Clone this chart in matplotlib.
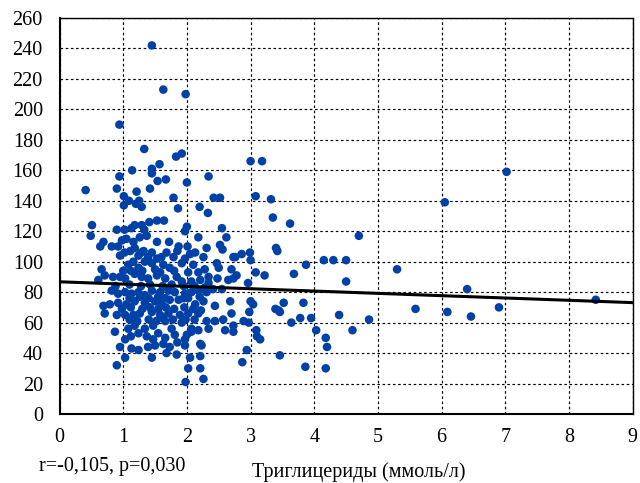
import matplotlib
matplotlib.use("Agg")
import matplotlib.pyplot as plt
import numpy as np

# Triglycerides (mmol/L) and the y-measure
tg = [1.45, 1.63, 1.98, 0.94, 1.33, 1.92, 1.83, 3.00, 3.18, 1.57, 1.45, 1.14, 0.94, 2.34, 1.45, 1.67, 1.54, 2.00,
      0.41, 0.90, 1.42, 1.21, 1.01, 3.08, 1.79, 2.42, 2.52, 3.32, 1.09, 1.25, 1.20, 1.01, 1.29, 2.20, 1.86, 2.33,
      3.35, 3.62, 1.41, 1.53, 1.64, 0.51,
      # right side
      7.02, 6.05, 4.70, 4.15, 4.30, 4.50, 5.30, 4.50, 6.40, 8.42, 5.59, 6.09, 6.90, 4.39, 4.86, 6.46, 4.60, 4.18,
      4.20, 4.18, 3.40, 3.42, 3.87, 3.68, 3.52, 3.83, 3.46, 3.64, 3.78, 3.95, 4.03, 3.46, 3.86,
      # 2.75 - 3.5
      2.76, 2.86, 2.99, 3.00, 3.08, 3.22, 2.96, 2.78, 3.00, 3.04, 2.98, 3.39, 3.44, 2.97, 2.89, 3.09, 3.10, 3.15,
      2.94, 2.87,
      # core rows
      0.49, 0.90, 1.02, 1.13, 1.18, 1.29, 1.33, 2.00, 1.97, 2.55,
      0.64, 0.69, 0.82, 0.92, 0.98, 1.05, 1.16, 1.26, 1.37, 1.53, 1.72, 1.87, 2.01, 2.18, 2.13, 2.62, 2.52, 2.56, 2.73,
      0.95, 1.11, 1.18, 1.24, 1.32, 1.39, 1.53, 1.60, 1.79, 1.97, 2.26, 2.31,
      0.66, 0.71, 1.08, 1.16, 1.24, 1.34, 1.45, 1.50, 1.63, 1.73, 1.92, 2.10, 2.28, 2.47, 2.50, 2.34, 2.48, 2.70,
      0.61, 0.84, 0.95, 1.03, 1.18, 1.29, 1.39, 1.53, 1.66, 1.84, 1.92, 2.07, 2.21, 2.34, 2.65, 2.73,
      0.82, 0.92, 1.03, 1.13, 1.24, 1.34, 1.45, 1.58, 1.71, 1.81, 1.97, 2.07, 2.18, 2.31, 2.41, 2.55,
      0.69, 0.79, 0.92, 1.05, 1.18, 1.34, 1.50, 1.60, 1.73, 1.87, 2.02, 2.13, 2.26, 2.44, 2.68, 2.70,
      0.71, 0.90, 1.03, 1.16, 1.26, 1.45, 1.58, 1.71, 1.89, 2.02, 2.18, 2.31, 2.44, 2.57, 2.73,
      0.87, 1.08, 1.18, 1.34, 1.47, 1.66, 1.76, 1.92, 2.07, 2.18, 2.34, 2.60, 2.73,
      1.03, 1.24, 1.37, 1.47, 1.66, 1.81, 1.97, 2.07, 2.21,
      0.95, 1.13, 1.24, 1.39, 1.63, 1.73, 1.97, 2.23,
      1.03, 1.45, 1.68, 1.84, 2.05, 2.21, 0.90,
      1.98, 2.02, 2.21, 2.26,
      # overlapping dots of the dense core
      0.88, 1.10, 1.28, 1.42, 1.62, 1.76, 1.95, 2.12, 2.28,
      0.98, 1.12, 1.30, 1.42, 1.55, 1.67, 1.80, 1.96, 2.10, 2.22,
      1.10, 1.22, 1.40, 1.52, 1.62, 1.78, 1.98, 2.12,
      1.10, 1.26, 1.40, 1.55, 1.66, 1.95, 2.20,
      1.00, 1.12, 1.30, 1.58, 1.80, 2.02, 2.18,
      1.02, 1.28, 1.45, 1.68, 1.85, 2.05,
      1.12, 1.55, 1.85, 2.00, 1.50]

yval = [242, 213, 210, 190, 174, 171, 169, 166, 166, 164, 161, 160, 156, 156, 158, 154, 153, 152,
        147, 148, 148, 146, 143, 143, 142, 142, 142, 141, 140, 140, 138, 137, 136, 136, 135, 132,
        129, 125, 126, 127, 127, 124,
        159, 139, 117, 101, 101, 101, 95, 87, 82, 75, 69, 67, 70, 65, 62, 64, 55, 50,
        44, 30, 109, 107, 98, 92, 73, 73, 67, 60, 63, 63, 55, 38.5, 31,
        103, 105, 106, 101, 93, 91, 86, 91, 74, 72, 67, 69, 68, 60, 61, 55, 51, 49,
        42, 34,
        117, 121, 121, 122, 124, 124, 121, 123, 120, 122,
        110, 113, 110, 110, 114, 115, 113, 116, 117, 113, 113, 110, 110, 116, 106, 116, 111, 108, 103,
        104, 107, 109, 104, 107, 103, 102, 103, 103, 102, 103, 109,
        95, 91, 98, 100, 96, 100, 99, 95, 98, 96, 99, 98, 95, 99, 96, 90, 89, 95,
        88, 90, 90, 89, 92, 90, 89, 91, 89, 90, 87, 87, 88, 86, 88, 89,
        81, 79, 80, 79, 80, 78, 81, 80, 81, 80, 79, 80, 81, 80, 82, 82,
        71, 72, 73, 72, 74, 73, 74, 73, 75, 75, 76, 72, 74, 71, 74, 66,
        66, 65, 65, 65, 66, 67, 65, 66, 65, 66, 66, 61, 61, 62, 58,
        54, 56, 58, 56, 58, 61, 56, 60, 56, 55, 56, 55, 54,
        49, 53, 51, 49, 50, 52, 49, 54, 46,
        44, 43, 42, 44, 46, 44, 45, 45,
        37, 37, 40, 39, 37, 38, 32,
        21, 30, 30, 23,
        84, 85, 84, 85, 84, 85, 84, 84, 83,
        69, 70, 69, 70, 69, 70, 69, 70, 69, 68,
        62, 61, 62, 61, 63, 62, 62, 62,
        76, 77, 76, 77, 76, 76, 77,
        94, 94, 94, 93, 94, 93, 93,
        106, 106, 106, 106, 107, 105,
        51, 53, 47, 52, 45]

line_intercept = 86.8
line_slope = -1.52

x_ticks = list(range(0, 10))
y_ticks = list(range(0, 261, 20))
xlabel = "Триглицериды (ммоль/л)"
stat_text = "r=-0,105, p=0,030"

plt.rcParams['font.family'] = ['Liberation Serif', 'DejaVu Serif']

fig = plt.figure(figsize=(6.4, 4.83), dpi=100)
ax = fig.add_axes([0.093, 0.1429, 0.8956, 0.8198])

ax.scatter(tg, yval, s=38, color='#0041A8', edgecolors='none', zorder=3)
lx = np.array([0, 9])
ax.plot(lx, line_intercept + line_slope * lx, color='black', lw=2.2, zorder=4)

ax.set_xlim(0, 9)
ax.set_ylim(0, 260)
ax.set_xticks(x_ticks)
ax.set_yticks(y_ticks)
ax.tick_params(axis='both', length=0, labelsize=14.5)
ax.tick_params(axis='y', pad=12)
ax.tick_params(axis='x', pad=10)
ax.grid(True, color='black', linestyle=(0, (2.2, 2.2)), lw=0.85, zorder=1)
for s in ax.spines.values():
    s.set_color('black')
    s.set_linewidth(1.0)
ax.spines['left'].set_linewidth(1.5)
ax.spines['bottom'].set_linewidth(1.5)

fig.text(112 / 640, 1 - 466 / 483, stat_text, ha='center', va='center', fontsize=14.5)
fig.text(359 / 640, 1 - 472 / 483, xlabel, ha='center', va='center', fontsize=14.5)

fig.savefig("out.png", dpi=100)
